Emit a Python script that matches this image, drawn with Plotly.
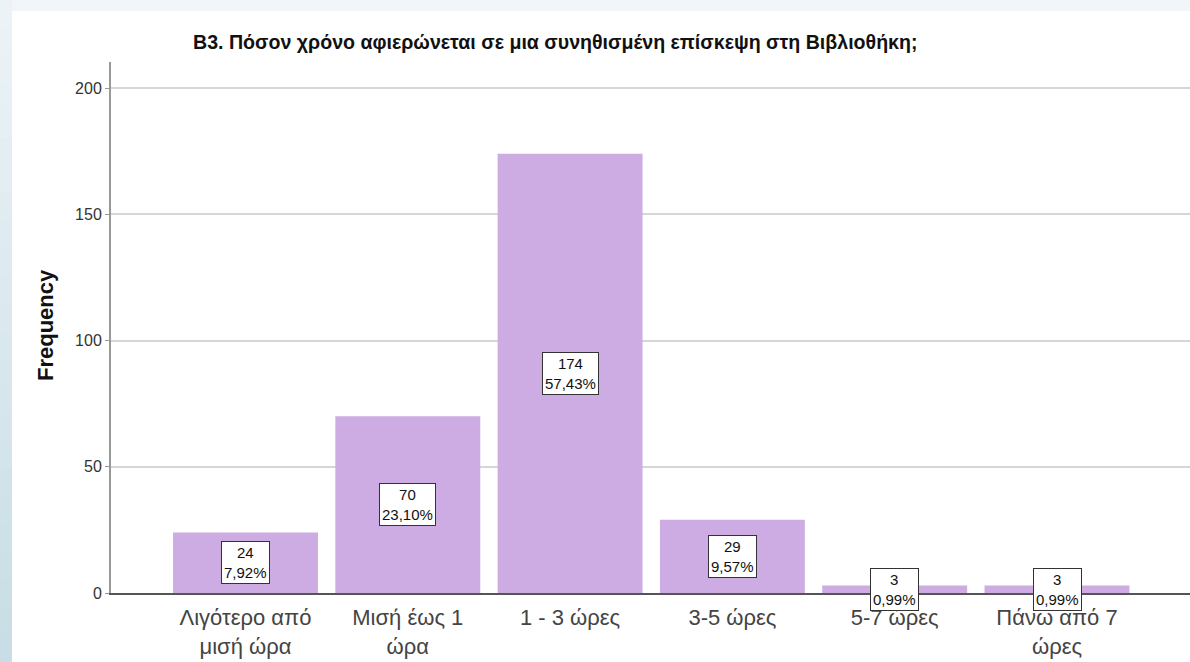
import plotly.graph_objects as go

# ---- data ----
categories = ["Λιγότερο από<br>μισή ώρα", "Μισή έως 1<br>ώρα", "1 - 3 ώρες",
              "3-5 ώρες", "5-7 ώρες", "Πάνω από 7<br>ώρες"]
counts = [24, 70, 174, 29, 3, 3]
percents = ["7,92%", "23,10%", "57,43%", "9,57%", "0,99%", "0,99%"]
y_ticks = [0, 50, 100, 150, 200]

title_text = "Β3. Πόσον χρόνο αφιερώνεται σε μια συνηθισμένη επίσκεψη στη Βιβλιοθήκη;"
y_title = "Frequency"

FONT = "Liberation Sans, Arial, sans-serif"
W, H = 1190, 662
L, R, T, B = 111, 0, 62, 69
PW, PH = W - L - R, H - T - B

def px_x(p):  # pixel -> paper x
    return (p - L) / PW

def px_y(p):  # pixel -> paper y
    return (H - B - p) / PH

fig = go.Figure()
fig.add_trace(go.Bar(
    x=categories, y=counts,
    marker=dict(color="#cdace3", line=dict(width=0)),
    hoverinfo="skip",
))

annotations = []
for c, n, p in zip(categories, counts, percents):
    annotations.append(dict(
        x=c, y=n / 2, xref="x", yref="y",
        text=f"{n}<br>{p}", showarrow=False,
        font=dict(family=FONT, size=15, color="#111"),
        bgcolor="white", bordercolor="#333", borderwidth=1, borderpad=2,
        align="center", yanchor="middle",
    ))

annotations.append(dict(
    x=px_x(555), y=px_y(42), xref="paper", yref="paper",
    text=f"<b>{title_text}</b>", showarrow=False,
    font=dict(family=FONT, size=19.6, color="#111"),
    xanchor="center", yanchor="middle",
))
annotations.append(dict(
    x=px_x(45), y=px_y(325), xref="paper", yref="paper",
    text=f"<b>{y_title}</b>", showarrow=False, textangle=-90,
    font=dict(family=FONT, size=22, color="#111"),
    xanchor="center", yanchor="middle",
))

# background: top strip and left gradient strip
shapes = [dict(type="rect", xref="paper", yref="paper",
               x0=px_x(0), x1=px_x(W + 5), y0=px_y(11), y1=px_y(0),
               fillcolor="#f2f6f8", line=dict(width=0), layer="below")]
n_slices = 24
top_rgb = (236, 243, 246)
bot_rgb = (200, 221, 229)
for i in range(n_slices):
    t = i / (n_slices - 1)
    col = tuple(round(a + (b - a) * t) for a, b in zip(top_rgb, bot_rgb))
    y0p = i * H / n_slices
    y1p = (i + 1) * H / n_slices + 1
    shapes.append(dict(type="rect", xref="paper", yref="paper",
                       x0=px_x(0), x1=px_x(12), y0=px_y(y1p), y1=px_y(y0p),
                       fillcolor="rgb(%d,%d,%d)" % col, line=dict(width=0),
                       layer="below"))

pitch = 162.3
fig.update_layout(
    width=W, height=H,
    margin=dict(l=L, r=R, t=T, b=B, pad=0),
    paper_bgcolor="white", plot_bgcolor="white",
    showlegend=False,
    bargap=0.107,
    font=dict(family=FONT),
    annotations=annotations,
    shapes=shapes,
    xaxis=dict(
        type="category",
        range=[-134.5 / pitch, -134.5 / pitch + PW / pitch],
        showline=True, linecolor="#555", linewidth=1.5,
        ticks="", showgrid=False, zeroline=False,
        tickfont=dict(family=FONT, size=22, color="#444"),
        ticklabelstandoff=4,
    ),
    yaxis=dict(
        range=[0, 210.3],
        tickvals=y_ticks,
        showline=True, linecolor="#999", linewidth=2,
        ticks="outside", ticklen=4, tickcolor="#999", tickwidth=1,
        showgrid=True, gridcolor="#d6d6d6", gridwidth=1.5,
        zeroline=False,
        tickfont=dict(family=FONT, size=16, color="#333"),
    ),
)

fig.write_html("out.html", config={"displayModeBar": False},
               post_script="document.body.style.margin='0';document.body.style.padding='0';")
